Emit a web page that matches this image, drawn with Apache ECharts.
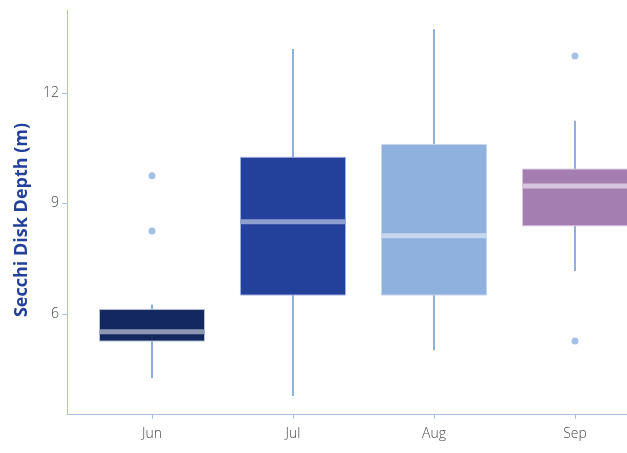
<!DOCTYPE html>
<html>
<head>
<meta charset="utf-8">
<script src="https://cdn.jsdelivr.net/npm/echarts@6/dist/echarts.min.js"></script>
<style>html,body{margin:0;padding:0;background:#fff}#c{width:627px;height:453px}</style>
</head>
<body>
<div id="c"></div>
<script>
const categories = ['Jun', 'Jul', 'Aug', 'Sep'];
const whiskerLow = [4.26, 3.77, 5.01, 7.16];
const q1Values = [5.26, 6.51, 6.51, 8.39];
const medianValues = [5.51, 8.50, 8.12, 9.47];
const q3Values = [6.12, 10.25, 10.60, 9.93];
const whiskerHigh = [6.25, 13.19, 13.73, 11.24];
const outliers = [[0, 9.75], [0, 8.25], [3, 13.0], [3, 5.26]];
const yTicks = [6, 9, 12];

const boxColors = ['#13285f', '#23409a', '#8fb1dd', '#a47eb0'];
const medianColors = ['#8c97b3', '#8e9fd0', '#c6d7ee', '#d7c4de'];
const edgeColors = ['#b9c2d8', '#9fb0de', '#c6d7ee', '#d7c4de'];
const whiskerColor = '#8fb0de';
const axisColor = '#a9c0e3';

const boxData = categories.map((c, i) => [i, whiskerLow[i], q1Values[i], medianValues[i], q3Values[i], whiskerHigh[i]]);

const yMin = 3.26, yMax = 14.25;
const labelFont = {color: '#4a4a4a', fontSize: 14, fontFamily: 'Open Sans', fontWeight: 300};
const chart = echarts.init(document.getElementById('c'));
chart.setOption({
  animation: false,
  grid: [
    {left: 67, right: 0, top: 10, bottom: 38.3, outerBoundsMode: 'none', containLabel: false},
    {left: 81.5, right: -18.5, top: 10, bottom: 38.3, outerBoundsMode: 'none', containLabel: false}
  ],
  xAxis: [
    {gridIndex: 0, type: 'value', min: 0, max: 1,
      axisLine: {show: true, lineStyle: {color: axisColor, width: 1}},
      axisTick: {show: false}, axisLabel: {show: false}, splitLine: {show: false}},
    {gridIndex: 1, type: 'category', data: categories,
      axisLine: {show: false},
      axisTick: {show: true, alignWithLabel: true, length: 4, lineStyle: {color: axisColor}},
      axisLabel: Object.assign({margin: 12}, labelFont),
      splitLine: {show: false}}
  ],
  yAxis: [
    {gridIndex: 0, type: 'value', min: yMin, max: yMax,
      axisLine: {show: true, lineStyle: {color: axisColor, width: 1}},
      axisTick: {show: true, length: 5, customValues: yTicks, lineStyle: {color: axisColor}},
      axisLabel: Object.assign({customValues: yTicks, margin: 8}, labelFont),
      splitLine: {show: false}},
    {gridIndex: 1, type: 'value', min: yMin, max: yMax, show: false}
  ],
  graphic: [{
    type: 'text', x: 22, y: 220, rotation: Math.PI / 2,
    style: {text: 'Secchi Disk Depth (m)', fill: '#23409a', font: 'bold 18px "Open Sans"', align: 'center', verticalAlign: 'middle'}
  }],
  series: [
    {
      type: 'custom', xAxisIndex: 1, yAxisIndex: 1,
      data: boxData,
      encode: {x: 0, y: [1, 2, 3, 4, 5]},
      renderItem: function (params, api) {
        const i = params.dataIndex;
        const x = api.value(0);
        const lo = api.coord([x, api.value(1)]);
        const q1 = api.coord([x, api.value(2)]);
        const med = api.coord([x, api.value(3)]);
        const q3 = api.coord([x, api.value(4)]);
        const hi = api.coord([x, api.value(5)]);
        const w = api.size([1, 0])[0] * 0.745;
        const cx = q1[0];
        return {
          type: 'group',
          children: [
            {type: 'line', shape: {x1: cx, y1: lo[1], x2: cx, y2: hi[1]}, style: {stroke: whiskerColor, lineWidth: 2}},
            {type: 'rect', shape: {x: cx - w / 2, y: q3[1], width: w, height: q1[1] - q3[1]}, style: {fill: boxColors[i], stroke: edgeColors[i], lineWidth: 1}},
            {type: 'rect', shape: {x: cx - w / 2, y: med[1] - 2.5, width: w, height: 5}, style: {fill: medianColors[i]}}
          ]
        };
      }
    },
    {
      type: 'scatter', xAxisIndex: 1, yAxisIndex: 1,
      data: outliers, symbolSize: 7,
      itemStyle: {color: whiskerColor}
    }
  ]
});
</script>
</body>
</html>
